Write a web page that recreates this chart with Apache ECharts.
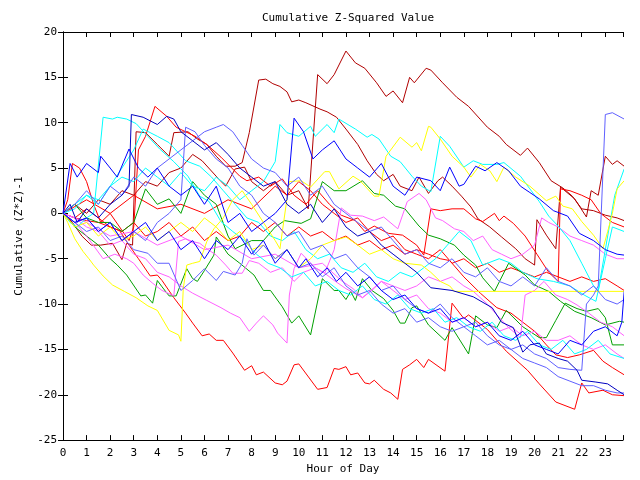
<!DOCTYPE html>
<html><head><meta charset="utf-8">
<script src="https://cdn.jsdelivr.net/npm/echarts@6/dist/echarts.min.js"></script>
<style>html,body{margin:0;padding:0;background:#fff}#c{width:640px;height:480px}</style>
</head><body><div id="c"></div>
<script>
const title = "Cumulative Z-Squared Value";
const xName = "Hour of Day";
const yName = "Cumulative (Z*Z)-1";
const hourTicks = [0,1,2,3,4,5,6,7,8,9,10,11,12,13,14,15,16,17,18,19,20,21,22,23];
const valueTicks = [-25,-20,-15,-10,-5,0,5,10,15,20];

// each series: [hour, cumulative value]
const darkRed1 = [[0,0],[0.4,-1],[0.8,-2.5],[1.2,-3.5],[1.6,-3.5],[2.1,-3.3],[2.5,-5.1],[2.7,-3.3],[2.95,-3.5],[3.1,9],[3.5,8.9],[4,7.6],[4.5,6.3],[4.7,8.9],[5.3,9],[5.7,8.2],[6.1,7.6],[6.5,6.3],[6.9,5.2],[7.3,5.2],[7.6,5.6],[7.9,8.9],[8.3,14.7],[8.6,14.8],[8.9,14.3],[9.2,14],[9.5,13.4],[9.7,12.3],[10,12.5],[10.3,12.2],[10.9,11.5],[11.2,11.2],[11.6,10.6],[12,9.3],[12.5,7.6],[12.9,5.8],[13.3,4.3],[13.6,3.6],[14,4.3],[14.3,3],[14.8,2.5],[15.1,4],[15.5,2.2],[15.9,3.6],[16.1,4],[16.5,3],[16.9,1.9],[17.3,0.7],[17.6,-0.6],[18.1,-1.5],[18.6,-2.6],[19.2,-3.9],[19.6,-5],[20,-5.7],[20.1,-0.7],[20.5,-2.4],[20.9,-3.9],[21.1,2.9],[21.7,1.6],[22.2,-0.4],[22.4,2.5],[22.7,2],[23,6.3],[23.3,5.4],[23.5,5.8],[23.8,5.2]];
const darkRed2 = [[0,0],[0.5,1],[1,0],[1.5,1.5],[2,1],[2.5,2.5],[3,2],[3.5,3.5],[4,3],[4.5,4.5],[5,5],[5.5,6.5],[5.9,5.8],[6.6,3.8],[6.9,3],[7.3,4.9],[7.7,5.1],[8,3.5],[8.5,2.5],[9,3.5],[9.5,2],[10,2.5],[10.4,0.5],[10.8,15.3],[11.2,14.3],[11.5,15.3],[12,17.9],[12.4,16.6],[12.8,16],[13.3,14.4],[13.7,12.9],[14,13.5],[14.4,12.2],[14.7,15],[14.9,14.4],[15.4,16],[15.6,15.8],[16.1,14.4],[16.7,12.8],[17.2,11.8],[18,9.5],[18.5,8.5],[18.8,7.6],[19.4,6.4],[19.7,7.2],[20.2,5.6],[20.7,3.6],[21.2,2.8],[21.6,1.9],[22,0.5],[22.5,0.3],[23,-0.2],[23.5,-0.5],[23.8,-0.8]];
const red1 = [[0,0],[0.5,-0.5],[1,-0.8],[1.5,-1],[2,-1.5],[2.4,-1.9],[2.8,-3.5],[3.2,-5],[3.7,-6.9],[4,-6.8],[4.2,-7.4],[4.7,-9.3],[5.2,-11],[5.5,-12.1],[5.9,-13.5],[6.2,-13.3],[6.5,-14],[6.8,-14],[7.2,-15.4],[7.7,-17.3],[8,-16.8],[8.2,-17.8],[8.5,-17.5],[9,-18.7],[9.3,-18.9],[9.5,-18.5],[9.8,-16.7],[10,-16.6],[10.8,-19.4],[11.2,-19.2],[11.5,-17.1],[11.7,-17.2],[12,-16.9],[12.2,-17.8],[12.5,-17.6],[12.8,-18.7],[13,-18.8],[13.2,-18.4],[13.6,-19.4],[13.9,-19.8],[14.2,-20.5],[14.4,-17.2],[14.7,-16.7],[15,-16.1],[15.3,-17],[15.5,-16.1],[16.2,-17.4],[16.5,-9.9],[17,-11.6],[17.2,-11.2],[18,-12.8],[18.8,-15.2],[19.7,-17.3],[20.2,-18.8],[20.9,-20.8],[21.7,-21.6],[22,-18.7],[22.3,-19.8],[22.9,-19.5],[23.3,-20],[23.8,-20.1]];
const red2 = [[0,0],[0.2,1.5],[0.4,5.5],[0.7,5],[1,3.5],[1.3,1],[1.6,-1],[2,0],[2.4,-1.5],[2.8,-3],[3,-1.5],[3.2,7],[3.5,8.5],[3.9,11.8],[4.4,10.7],[4.8,9.5],[5.2,9],[5.6,8.5],[6.1,7.6],[6.7,6.2],[7.5,4.1],[7.8,3.6],[8.3,4],[8.8,3],[9.3,3.8],[9.8,2],[10.3,1],[10.8,2.5],[11.3,1],[11.8,-0.2],[12.4,-0.8],[12.8,-2],[13.2,-1.4],[13.8,-2.2],[14.4,-2.4],[15,-3.5],[15.3,-4.6],[15.6,0.5],[16,0.3],[16.5,0.5],[17,0.5],[17.5,-0.6],[17.8,-0.9],[18.3,0],[18.5,-0.8],[18.7,-0.3],[19.1,-1.1],[19.6,-2.5],[20.1,-4.5],[20.6,-6.5],[21,-7.5],[21.1,2.7],[21.5,2.5],[22,2],[22.4,1.5],[22.8,0],[23.3,-1],[23.8,-1.5]];
const red3 = [[0,0],[0.5,-0.5],[1,0.5],[1.5,-0.5],[2,-1.5],[2.5,-2],[3,-1],[3.5,-2.5],[4,-2],[4.5,-1],[5,-2.5],[5.5,-1.5],[6,-3],[6.5,-2],[7,-3],[7.5,-2.5],[8,-1],[8.5,-2],[9,-1],[9.5,-2.5],[10,-1.5],[10.5,-2.5],[11,-2],[11.5,-3],[12,-2.5],[12.5,-3.5],[13,-3],[13.5,-4],[14,-3.5],[14.5,-4.5],[15,-4],[15.5,-4.5],[16,-5],[16.4,-5.2],[17,-7],[17.7,-8.8],[18.4,-10.4],[19,-11],[19.5,-12],[20,-13],[20.5,-14.5],[20.9,-15.6],[21.4,-15.9],[21.9,-15.6],[22.5,-15.1],[22.9,-16.3],[23.3,-17],[23.8,-17.8]];
const red4 = [[0,0],[1,1.5],[2,0],[3,2],[4,0.5],[5,1],[6,0],[7,1.5],[8,0.5],[9,3],[9.5,2],[10,3.5],[10.5,2.5],[11,1],[11.5,0],[12,-1],[12.5,-0.5],[13,-2],[13.5,-3],[14,-2.5],[14.5,-4],[15,-4.5],[15.5,-5],[16,-4],[16.5,-5.5],[17,-5],[17.5,-6],[18,-5.5],[18.5,-6.5],[19,-6],[19.5,-6.5],[20,-7],[20.5,-6.5],[21,-7],[21.5,-7.5],[22,-7],[22.5,-7.5],[23,-7.2],[23.5,-8],[23.8,-8.5]];
const blue1 = [[0,0],[0.3,1],[0.6,-1],[1,0.5],[1.5,-0.5],[2,1],[2.5,2],[2.8,3],[2.9,10.9],[3.4,10.6],[3.7,10.2],[4,9.8],[4.4,10.7],[4.7,10.4],[5,9],[5.5,8],[6,7],[6.5,7.8],[7,6.5],[7.5,5],[8,4],[8.5,3],[9,3.5],[9.5,1],[10,0],[10.5,1],[11,-1],[11.5,0.5],[12,-1.5],[12.5,-2.5],[13,-2],[13.5,-3.5],[14,-4.5],[14.5,-5.5],[15,-6.5],[15.6,-8.2],[16.5,-8.5],[17.4,-9.2],[18.2,-10.4],[18.6,-12],[19.1,-12.6],[19.5,-15.3],[19.8,-14.5],[20.2,-14.3],[20.5,-15.5],[21,-16],[21.4,-16.3],[21.8,-17.3],[22,-18.4],[22.6,-18.6],[23.1,-18.8],[23.5,-19.5],[23.8,-20]];
const blue2 = [[0,0],[0.3,5.5],[0.6,4],[1,5.5],[1.5,4.5],[1.6,6.3],[2,5],[2.3,4],[2.8,7.1],[3.2,5],[3.6,4],[4,5],[4.5,3],[5,2],[5.5,3],[6,1],[6.5,3],[7,-1],[7.5,0],[8,-2],[8.5,-1],[9,0],[9.5,1.5],[9.8,10.5],[10.2,9],[10.6,6],[11,7],[11.5,8],[12,6],[12.5,5],[13,4],[13.5,5.5],[14,3],[14.5,2],[15,4],[15.6,3.6],[16,2.5],[16.4,5.1],[16.8,3],[17,3.2],[17.5,5.2],[17.9,4.7],[18.4,5.6],[18.9,4.7],[19.4,3],[19.8,2.3],[20.2,1.6],[20.8,0.3],[21.4,-0.3],[21.9,-2.2],[22.5,-3],[23,-4],[23.5,-4.5],[23.8,-4.6]];
const blue3 = [[0,0],[0.5,-1],[1,-0.5],[1.5,-2],[2,-1],[2.5,-3],[3,-2],[3.5,-1],[4,-3],[4.5,-2],[5,-4],[5.5,-3],[6,-5],[6.5,-3],[7,-4],[7.5,-2.5],[8,-4.5],[8.5,-3],[9,-5.5],[9.5,-4],[10,-6],[10.3,-5],[10.8,-7],[11.2,-6],[11.6,-7.5],[12,-6.5],[12.5,-8],[13,-7],[13.5,-8.5],[14,-9.5],[14.5,-9],[15,-10.5],[15.5,-11],[16,-10.5],[16.5,-12],[17,-11.5],[17.5,-12.5],[18,-12],[18.5,-13.5],[19,-14],[19.5,-13],[20,-14.5],[20.5,-15],[21,-15.5],[21.5,-14],[22,-14.5],[22.5,-13],[23,-12.5],[23.5,-13.5],[23.7,-12],[23.8,-8.6]];
const slate1 = [[0,0],[0.5,-1],[1,-2],[1.5,-1.5],[2,-3],[2.5,-2.5],[3,-4],[3.6,-4.4],[4,-5.5],[4.5,-5.5],[5,-8.5],[5.5,-7.4],[6,-6.1],[6.5,-7.4],[6.8,-6.4],[7.3,-6.8],[7.6,-5.5],[7.8,-2.8],[8.1,-4.6],[8.5,-3.5],[9,-5],[9.5,-4],[10,-6],[10.5,-5.5],[11,-7],[11.5,-6],[12,-8],[12.5,-9],[13,-8.5],[13.5,-10],[14,-11],[14.5,-10.5],[15,-12],[15.5,-11.5],[16,-12.5],[16.5,-13],[17,-12.5],[17.5,-13.5],[18,-14.5],[18.5,-14],[19,-15],[19.5,-14.5],[20,-15.5],[20.5,-16],[21,-17],[21.5,-17.2],[22,-17.3],[22.2,-10],[22.5,-9],[22.7,-8],[23,10.9],[23.3,11.1],[23.8,10.4]];
const slate2 = [[0,0],[0.5,1],[1,2.5],[1.5,1],[2,3],[2.5,2],[3,4],[3.5,3],[4,5],[4.5,6],[5,7],[5.5,8],[6,9],[6.5,9.5],[6.8,9.8],[7.2,9],[7.6,7.5],[8,6],[8.5,5],[9,4.5],[9.5,3],[10,4],[10.5,2],[11,3],[11.5,1],[12,0],[12.5,-1],[13,-2],[13.5,-1.5],[14,-3],[14.5,-4.5],[15,-4],[15.5,-5.5],[16,-6],[16.5,-5],[17,-6.5],[17.5,-7],[18,-6],[18.5,-7.5],[19,-8],[19.5,-7],[20,-8],[20.5,-6],[21,-7.5],[21.5,-8],[22,-9],[22.5,-8],[23,-9.5],[23.5,-10],[23.8,-9.5]];
const slate3 = [[0,0],[0.5,-1],[1,-0.5],[1.5,-2],[2,-1],[2.5,-3],[3,-2],[3.5,-3],[4,-1],[4.5,0],[5,1.5],[5.2,9.5],[5.6,9],[6,7.5],[6.5,6],[7,5],[7.5,3],[8,2],[8.5,0],[9,-1],[9.5,-2.5],[10,-2],[10.5,-4],[11,-3.5],[11.5,-5],[12,-4.5],[12.5,-6],[13,-7],[13.5,-8.5],[14,-8],[14.5,-9.5],[15,-10.5],[15.5,-11],[16,-10],[16.5,-11.5],[17,-12.5],[17.5,-12],[18,-13.5],[18.5,-14.5],[19,-15],[19.5,-16],[20,-16.5],[20.5,-17],[21,-18],[21.5,-18.5],[22,-19],[22.5,-19],[23,-19.5],[23.5,-19.8],[23.8,-19.8]];
const cyan1 = [[0,0],[0.3,-1],[0.6,-1.5],[1,-0.5],[1.3,0],[1.7,10.6],[2.1,10.4],[2.3,10.6],[2.7,10.4],[3.1,9.9],[3.6,8.5],[4.1,7.1],[4.7,5.7],[5.3,4.1],[5.8,1.9],[6.2,1.3],[6.7,-0.9],[7.2,-2],[7.7,-3],[8.2,-4.5],[8.7,-5.5],[9.2,-6],[9.7,-7],[10.2,-6.5],[10.7,-8],[11.2,-7.5],[11.7,-8.5],[12.2,-9],[12.7,-8],[13.2,-9.5],[13.7,-10],[14.2,-9],[14.7,-10.5],[15.2,-11],[15.7,-10.5],[16.2,-12],[16.7,-11.5],[17.2,-12.5],[17.7,-13],[18.2,-12],[18.7,-13.5],[19.2,-14],[19.7,-13],[20.2,-14.5],[20.7,-15],[21.2,-14],[21.7,-15.5],[22.2,-15],[22.7,-14],[23.2,-15.5],[23.8,-16]];
const cyan2 = [[0,0],[0.5,0.5],[1,2],[1.5,1],[2,3],[2.5,5],[3,7],[3.4,9.3],[4,8.5],[4.5,7.8],[5.2,5.8],[5.8,5.2],[6.3,4],[6.8,2.5],[7.3,1],[7.8,-0.5],[8.3,-1],[8.8,-2.5],[9.3,-3],[9.8,-2],[10.3,-4],[10.8,-5],[11.3,-4.5],[11.8,-6],[12.3,-6.5],[12.8,-5.5],[13.3,-7],[13.8,-7.5],[14.3,-6.5],[14.8,-7],[15.3,-6],[15.8,-5],[16.3,-3.5],[16.8,-2],[17.3,-3],[17.8,-5.7],[18.5,-5],[19,-5.5],[19.5,-6.5],[20.1,-7.2],[20.8,-7.5],[21.5,-8],[22.1,-9],[22.6,-9.7],[23,-5],[23.3,-1.5],[23.8,-2]];
const cyan3 = [[0,0],[0.5,1],[1,2],[1.5,1.5],[2,3],[2.5,4],[3,3.5],[3.5,5],[4,4],[4.5,3],[5,4.5],[5.5,3],[6,2.5],[6.5,4],[7,3],[7.5,1.5],[8,2.5],[8.5,3.5],[9,5.7],[9.2,9.8],[9.5,8.9],[10,8.5],[10.5,9.6],[10.7,8.5],[11.2,9.8],[11.5,8.9],[11.7,10.4],[12.4,9.3],[12.9,8.4],[13.1,8.7],[13.4,8.2],[13.9,6.3],[14.3,5.7],[14.8,4.1],[15.2,3],[15.6,2.4],[16,8.5],[16.4,7.4],[17,5.1],[17.4,5.8],[17.8,5.4],[18.4,5.4],[18.7,5.6],[19.4,4.1],[19.8,2.7],[20.2,1.3],[20.6,-0.3],[21,-1.4],[21.5,-3],[22,-5.5],[22.5,-8],[22.7,-8.5],[23,-4],[23.4,2],[23.8,4.9]];
const yellow1 = [[0,0],[0.2,-1],[0.5,-2.8],[0.85,-4.2],[1.1,-5],[1.3,-5.7],[1.7,-6.9],[2.1,-7.9],[2.6,-8.6],[3.1,-9.3],[3.6,-10.2],[4,-10.7],[4.5,-12.9],[4.9,-13.4],[5,-14.1],[5.1,-8.3],[5.25,-5.7],[5.5,-5.5],[5.8,-5.3],[6.1,-3.1],[6.4,-1.7],[6.8,-0.5],[7.2,1.5],[7.6,2.5],[8,1],[8.5,-1],[9,-3],[9.2,-3.9],[9.6,3.5],[10.1,3.6],[10.5,2.9],[11.1,4.6],[11.3,4.6],[11.7,2.7],[12.3,4.1],[12.6,3.6],[13.2,1.9],[13.4,1.9],[13.7,6.3],[14.3,8.4],[14.8,7.3],[15,7.8],[15.2,6.9],[15.5,9.6],[15.6,9.5],[16,8.2],[16.5,6.3],[17,5.1],[17.3,4],[17.7,5.4],[18.1,4.7],[18.4,3.5],[18.7,5.1],[19.2,4],[19.8,3],[20.5,1.4],[20.9,1.9],[21.2,0.8],[21.6,0.5],[22,-0.9],[22.5,-2.4],[22.9,-3.9],[23.1,-2],[23.3,0],[23.5,2.7],[23.8,3.6]];
const yellow2 = [[0,0],[0.5,-1.5],[1,-1],[1.5,-2.5],[2,-1.5],[2.5,-3],[3,-2.5],[3.5,-1.5],[4,-3],[4.5,-2],[5,-1],[5.5,-2],[6,-0.5],[6.5,-1.5],[7,-3],[7.5,-2],[8,-4],[8.5,-3.5],[9,-5],[9.5,-4],[10,-6],[10.5,-5],[11,-3.5],[11.5,-3],[12,-2.6],[12.5,-3.5],[13,-4.5],[13.5,-4],[14,-5],[14.5,-5.5],[15.2,-5.7],[15.6,-6.5],[16,-7.5],[16.4,-8],[16.6,-8.6],[23.8,-8.6]];
const green1 = [[0,0],[0.5,-1.5],[1,-2.5],[1.5,-3.5],[2,-5],[2.3,-5.7],[2.7,-6.8],[3.3,-9.1],[3.5,-9],[3.8,-9.9],[4,-7.4],[4.2,-8.1],[4.5,-9.1],[4.8,-9.1],[5.25,-6.1],[5.5,-7.2],[5.7,-7.5],[6,-6.3],[6.4,-4.6],[6.5,-2.6],[7,-4.5],[7.5,-5.5],[8.1,-6.8],[8.5,-8.5],[8.8,-8.5],[9.3,-10.3],[9.7,-12.1],[10,-11.3],[10.5,-13.4],[11,-7.2],[11.5,-8.5],[11.7,-8.5],[12,-9.5],[12.2,-8.6],[12.4,-9.6],[12.7,-7.2],[13.1,-8.5],[13.6,-9.4],[14,-10.7],[14.3,-12.1],[14.5,-12.1],[14.8,-10.4],[15,-10.2],[15.5,-12.3],[16.2,-14],[16.5,-12.6],[17.2,-15.5],[17.5,-11.3],[18,-12.3],[18.4,-12.6],[18.8,-10.7],[19.5,-12.5],[20.2,-13.7],[20.5,-13.7],[20.9,-11.8],[21.3,-9.9],[21.8,-10.5],[22.2,-10.8],[22.7,-10.5],[23,-11.5],[23.3,-14.5],[23.8,-14.5]];
const green2 = [[0,0],[0.5,1],[1,-0.5],[1.5,-1],[2,-1],[2.5,-2],[3,-1],[3.5,2.7],[4,1],[4.5,1.6],[5,0],[5.5,3.5],[6,2],[6.5,1],[7,-2.5],[7.3,-3.9],[8,-3],[8.5,-3],[9,-1.5],[9.4,-0.8],[10.1,-1.1],[10.5,-0.6],[11,3.5],[11.5,2.5],[12,2.5],[12.7,3.6],[13.2,2.2],[13.6,2],[14.1,0.8],[14.5,0.5],[15.1,-1.4],[15.5,-2.4],[16,-2.8],[16.6,-3.5],[17,-4.6],[17.5,-5.7],[17.8,-7.1],[18.3,-8.6],[18.9,-5.5],[19.6,-6.8],[20,-7.9],[20.6,-8.6],[21.1,-9.7],[21.7,-10.8],[22.4,-11.5],[23,-12.3],[23.6,-11.9],[23.8,-12]];
const magenta1 = [[0,0],[0.5,-1],[1,-2.5],[1.7,-5],[2.2,-4.5],[2.7,-5],[3,-5.5],[3.4,-6.8],[3.8,-7.7],[4.2,-8.5],[4.7,-9.1],[4.9,-3.1],[5.2,-2.8],[5.5,-3.1],[5.8,-3.3],[6.1,-3.9],[6.5,-4.6],[6.9,-5.7],[7.2,-6.6],[7.6,-6.6],[7.9,-5.2],[8.3,-5.5],[8.8,-6.5],[9.3,-6],[9.8,-7.5],[10.2,-6.5],[10.7,-6],[11.1,-6.6],[11.5,-7.4],[12,-8.3],[12.7,-9.3],[13.1,-8.5],[13.5,-7.5],[14,-8.5],[14.5,-9.5],[15,-9],[15.5,-10.5],[16,-11],[16.5,-12],[17,-11.5],[17.5,-12.5],[18,-12],[18.5,-13],[19,-12.5],[19.5,-13.5],[20,-13],[20.5,-14],[21,-14],[21.5,-13.5],[22,-14.5],[22.5,-15],[23,-14.5],[23.5,-15.5],[23.8,-16]];
const magenta2 = [[0,0],[0.5,-0.5],[1,-1.5],[1.5,-2],[2,-3.5],[2.5,-3],[3,-4.5],[3.5,-5],[4,-6.5],[4.5,-7],[5,-8],[5.5,-8.8],[6.1,-9.6],[6.7,-10.4],[7.1,-11],[7.5,-11.5],[7.9,-13],[8.2,-12.1],[8.5,-11.3],[8.9,-12.3],[9.1,-13.2],[9.5,-14.3],[9.6,-9],[9.8,-6.1],[10.1,-4.4],[10.7,-6],[11.1,-6.6],[11.5,-4],[11.8,0.6],[12.2,-0.2],[12.7,-0.3],[13.2,-0.8],[13.6,-0.4],[14.2,-1.7],[14.6,1.3],[15.1,2.2],[15.4,1.5],[15.8,-0.5],[16.1,-0.8],[16.6,-1.7],[17,-2],[17.4,-3],[17.8,-2.5],[18.2,-4],[18.6,-4.5],[19,-5],[19.5,-4.5],[20,-3.5],[20.3,-0.5],[20.6,-1],[21,-1.5],[21.5,-2.5],[22,-3],[22.5,-3.5],[23,-4.5],[23.5,-5],[23.8,-5]];
const magenta3 = [[0,0],[1,-1],[2,-2.5],[3,-2],[4,-3.5],[5,-2.5],[6,-4],[7,-3.5],[8,-5],[9,-4.5],[10,-6],[11,-5.5],[11.8,-7.4],[12.3,-8.3],[12.7,-9.3],[13.5,-7.5],[14,-8],[14.5,-8.5],[15,-8],[15.5,-7],[16,-7.5],[16.5,-7],[17,-8],[17.4,-8.6],[18,-10],[18.4,-11.2],[18.9,-12.6],[19.4,-13.7],[19.6,-9],[20,-8.5],[20.4,-7.5],[20.9,-9],[21.4,-9.5],[21.8,-10.1],[22.3,-11],[22.8,-12],[23.3,-12.5],[23.8,-13.5]];

const lines = [
  [darkRed1,'#b00000'],[darkRed2,'#b00000'],
  [red1,'#ff0000'],[red2,'#ff0000'],[red3,'#ff0000'],[red4,'#ff0000'],
  [green1,'#00a000'],[green2,'#00a000'],
  [magenta1,'#ff60ff'],[magenta2,'#ff60ff'],[magenta3,'#ff60ff'],
  [cyan1,'#00ffff'],[cyan2,'#00ffff'],[cyan3,'#00ffff'],
  [yellow1,'#ffff00'],[yellow2,'#ffff00'],
  [slate1,'#6060ff'],[slate2,'#6060ff'],[slate3,'#6060ff'],
  [blue1,'#0000c0'],[blue2,'#0000ff'],[blue3,'#0000ff']
];

const font = 'DejaVu Sans Mono';
const chart = echarts.init(document.getElementById('c'), null, {renderer:'canvas'});
const yAxisCommon = {
  type:'value', min:valueTicks[0], max:valueTicks[valueTicks.length-1], interval:5,
  axisLine:{show:true,lineStyle:{color:'#000',width:1}},
  axisTick:{show:true,inside:true,length:5,lineStyle:{color:'#000'}},
  splitLine:{show:false}
};
const xAxisCommon = {
  type:'value', min:hourTicks[0], max:23.75, interval:1,
  axisLine:{show:true,onZero:false,lineStyle:{color:'#000',width:1}},
  axisTick:{show:true,inside:true,length:5,lineStyle:{color:'#000'}},
  splitLine:{show:false}
};
chart.setOption({
  animation:false,
  backgroundColor:'#fff',
  title:{text:title,left:343,top:8,textAlign:'center',
    textStyle:{fontFamily:font,fontSize:11,fontWeight:'normal',color:'#000'}},
  grid:{left:63,right:17,top:32,bottom:37,show:false},
  xAxis:[
    Object.assign({},xAxisCommon,{position:'bottom',name:xName,nameLocation:'middle',nameGap:22,
      nameTextStyle:{fontFamily:font,fontSize:11,color:'#000'},
      axisLabel:{show:true,color:'#000',fontFamily:font,fontSize:11,margin:8,
        formatter:v=>Number.isInteger(v)?String(v):''}}),
    Object.assign({},xAxisCommon,{position:'top',axisLabel:{show:false}})
  ],
  yAxis:[
    Object.assign({},yAxisCommon,{position:'left',name:yName,nameLocation:'middle',nameGap:38,nameRotate:90,
      nameTextStyle:{fontFamily:font,fontSize:11,color:'#000'},
      axisLabel:{show:true,color:'#000',fontFamily:font,fontSize:11,margin:6}}),
    Object.assign({},yAxisCommon,{position:'right',axisLabel:{show:false}})
  ],
  series: lines.map(([d,c])=>({type:'line',data:d,showSymbol:false,symbol:'none',
    lineStyle:{color:c,width:1},itemStyle:{color:c},silent:true,clip:true}))
});
</script></body></html>
